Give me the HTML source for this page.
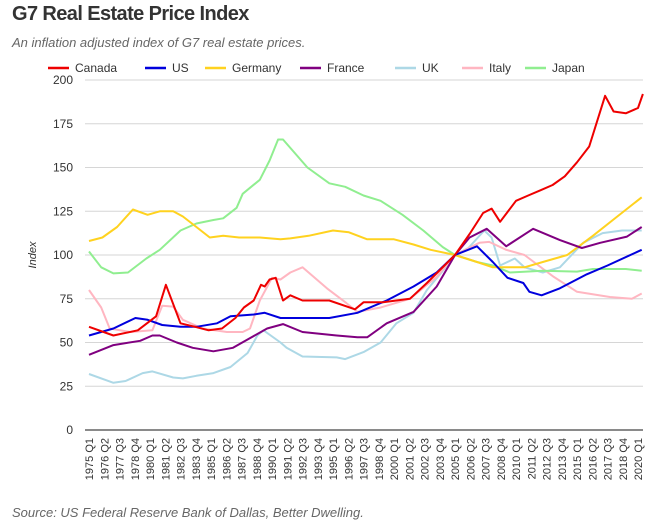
<!DOCTYPE html>
<html><head><meta charset="utf-8"><style>
body{margin:0;background:#fff;width:668px;height:525px;overflow:hidden;font-family:"Liberation Sans",sans-serif}
.t{position:absolute;left:12px;top:3px;font-size:20px;font-weight:bold;color:#333;letter-spacing:-0.6px}
.s{position:absolute;left:12px;top:35px;font-size:13px;font-style:italic;color:#666}
.src{position:absolute;left:12px;top:505px;font-size:13px;font-style:italic;color:#666}
svg{position:absolute;left:0;top:0}
</style></head><body>
<div class="t">G7 Real Estate Price Index</div>
<div class="s">An inflation adjusted index of G7 real estate prices.</div>
<div class="src">Source: US Federal Reserve Bank of Dallas, Better Dwelling.</div>
<svg id="c" width="668" height="525"></svg>
<script>
const yTicks=[0,25,50,75,100,125,150,175,200];
const xLabelYears=[];for(let i=0;i<37;i++){xLabelYears.push(1975+i*1.25);}
const seriesNames=["Canada","US","Germany","France","UK","Italy","Japan"];
const seriesColors=["#ee0000","#0000dd","#ffd21f","#800080","#add8e6","#ffb6c1","#90ee90"];
const canadaT=[1975,1977,1979,1980.5,1981.3,1982.5,1983.7,1984.8,1985.9,1987,1987.7,1988.5,1989.1,1989.4,1989.8,1990.3,1990.9,1991.5,1992.5,1994.7,1996.8,1997.5,1999.1,2001.3,2002.7,2005,2006.2,2007.3,2008,2008.7,2010,2011,2012,2013,2014,2015,2016,2017.3,2018,2019,2020,2020.4];
const canadaV=[59,54,57,65,83,61,59,57,58,64,70,74,83,82,86,87,74,77,74,74,69,73,73,75,84,100,112,124,126.5,119,131,134,137,140,145,153,162,191,182,181,184,192];
const usT=[1975,1976,1977,1978.8,1979.8,1981,1982.5,1983.8,1985.5,1986.6,1988.5,1989.4,1990.7,1991.5,1994.7,1997,1999.4,2001.6,2003.5,2005,2006.8,2008.1,2009.3,2010.6,2011.1,2012.1,2013.6,2015.8,2017.5,2020.3];
const usV=[54,56,58,64,63,60,59,59,61,65,66,67,64,64,64,67,74,82,90,100,105,96,87,84,79,77,81,89,94,103];
const germanyT=[1975,1976.1,1977.3,1978.6,1979.8,1980.8,1981.9,1982.7,1983.8,1984.9,1986,1987.3,1989,1990.7,1991.5,1993,1995,1996.3,1997.8,2000,2001.6,2003,2005,2006.8,2008.1,2010.7,2012.2,2014.2,2016.3,2018.3,2020.3];
const germanyV=[108,110,116,126,123,125,125,122,116,110,111,110,110,109,109.5,111,114,113,109,109,106,103,100,96,93,93,96,100,111,122,133];
const franceT=[1975,1977,1979.2,1980.2,1980.8,1982.2,1983.5,1985.2,1986.8,1988.2,1989.6,1990.9,1992.5,1995.3,1997,1997.8,1999.4,2001.6,2003.5,2005,2006.2,2007.6,2009.2,2011.4,2013.6,2015.4,2016.9,2019.1,2020.3];
const franceV=[43,48.5,51,54,54,50,47,45,47,52.5,58,60.5,56,54,53,53,61,67.5,82,100,110,115,105,115,108.5,104,107,110.5,116];
const ukT=[1975,1977,1978,1979.4,1980.2,1981.9,1982.7,1983.8,1985.2,1986.6,1988,1988.8,1989.3,1990.7,1991.2,1992.5,1995.3,1996,1997.5,1998.9,2000.2,2001.6,2002.7,2004,2005,2006.1,2007.4,2008,2008.7,2009.9,2010.7,2012.2,2013.6,2015.5,2017.1,2018.7,2020.3];
const ukV=[32,27,28,32.5,33.5,30,29.5,31,32.5,36,44,54,57,50,47,42,41.5,40.5,44.5,50,61,67,80,91,100,104,114,110,94,98,93,90,93,107,112.5,114,114];
const italyT=[1975,1976,1976.7,1978.4,1980.2,1981,1981.9,1982.7,1984.3,1986.3,1987.6,1988.2,1989,1990,1990.7,1991.5,1992.5,1994.5,1996.1,1997,1998.9,2001.3,2003.5,2005,2007,2007.8,2009.2,2010.7,2013.1,2015,2017.7,2019.5,2020.3];
const italyV=[80,70,58,56,57,71,70.5,63,58,56,56,58,74,87,86,90,93,81,72.5,67.5,70,75,87.5,100,107,107.5,103,100,87.5,79,76,75,78];
const japanT=[1975,1976,1977,1978.2,1979.7,1980.8,1982.5,1983.8,1985.2,1986,1987.1,1987.6,1989,1989.8,1990.5,1990.9,1992.9,1994.7,1996,1997.5,1998.9,2000.7,2002.4,2004,2005,2006.8,2008.1,2009.5,2012.2,2015,2016.3,2019,2020.3];
const japanV=[102,93,89.5,90,98,103,114,118,120,121,127,135,143,154,166,166,150,141,139,134,131,123,114,104.5,100,96,94,90,91,90.5,92,92,91];
const allT=[canadaT,usT,germanyT,franceT,ukT,italyT,japanT];
const allV=[canadaV,usV,germanyV,franceV,ukV,italyV,japanV];

const svg=document.getElementById('c');const NS="http://www.w3.org/2000/svg";
const X0=89,XPY=12.2,Y0=430,YPU=1.75;
function xs(t){return X0+XPY*(t-1975);}
function ys(v){return Y0-YPU*v;}
function mk(tag,at,parent){const e=document.createElementNS(NS,tag);for(const k in at)e.setAttribute(k,at[k]);(parent||svg).appendChild(e);return e;}
yTicks.forEach(v=>{
  const l=mk('line',{x1:85,x2:643,y1:ys(v),y2:ys(v),stroke:v===0?'#444':'#d6d6d6','stroke-width':v===0?1.2:1});
  
  
  const t=mk('text',{x:73,y:ys(v)+4,'text-anchor':'end','font-size':12,fill:'#333'});t.textContent=v;
  
  
});
const yt=mk('text',{transform:'translate(36,255) rotate(-90)','text-anchor':'middle','font-size':11,'font-style':'italic',fill:'#333'});yt.textContent='Index';


xLabelYears.forEach((yv,i)=>{
  const yr=Math.floor(yv+1e-6);const q=Math.round((yv-yr)*4)+1;
  const x=xs(yv)+4;
  const t=mk('text',{transform:`translate(${x},438) rotate(-90)`,'text-anchor':'end','font-size':11,fill:'#333'});t.textContent=yr+' Q'+q;
  
  
});
const order=[4,5,6,2,3,1,0];
order.forEach(i=>{
  const d=allT[i].map((t,j)=>(j?'L':'M')+xs(t).toFixed(1)+','+ys(allV[i][j]).toFixed(1)).join('');
  const p=mk('path',{d:d,fill:'none',stroke:seriesColors[i],'stroke-width':2,'stroke-linejoin':'round'});
  
  
});
const legX=[48,145,205,300,395,462,525];
seriesNames.forEach((n,i)=>{
  const g=mk('g',{});
  
  
  mk('line',{x1:legX[i],x2:legX[i]+21,y1:68,y2:68,stroke:seriesColors[i],'stroke-width':2.5},g);
  const t=mk('text',{x:legX[i]+27,y:72,'font-size':12,fill:'#333'},g);t.textContent=n;
});
</script>
</body></html>
